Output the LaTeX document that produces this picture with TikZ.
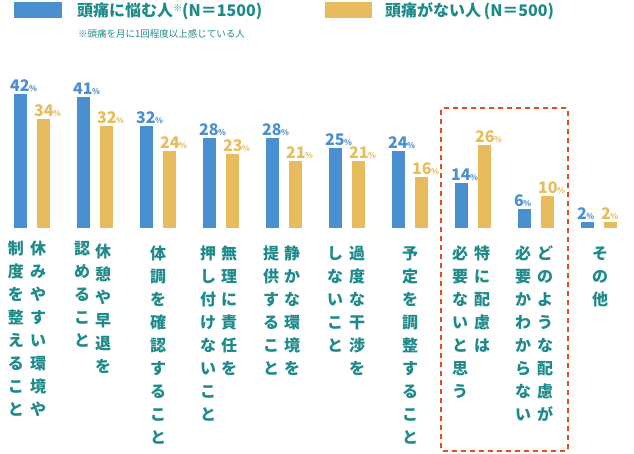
\documentclass[tikz,border=0pt]{standalone}
\usepackage{fontspec}
\setmainfont{Noto Sans CJK JP}
\definecolor{bblue}{HTML}{4A90D0}
\definecolor{byel}{HTML}{E8BC5C}
\definecolor{teal}{HTML}{1F8A8A}
\definecolor{dred}{HTML}{E0501E}
\begin{document}
\begin{tikzpicture}[x=1pt,y=-1pt,
 lab/.style={font=\fontsize{16}{23}\selectfont\bfseries,text=teal,align=center,anchor=north,inner sep=0pt},
 pct/.style={font=\fontsize{16}{16}\selectfont\bfseries,anchor=south west,inner sep=0pt}]
\useasboundingbox (0,0) rectangle (634,453);
\fill[bblue] (14,2) rectangle (62,18);
\node[anchor=west,text=teal,font=\fontsize{16}{16}\selectfont\bfseries,inner sep=0pt] (l1) at (77,11) {頭痛に悩む人\raisebox{5pt}{\fontsize{9}{9}\selectfont ※}(N＝1500)};
\fill[byel] (325,2) rectangle (372,18);
\node[anchor=west,text=teal,font=\fontsize{16}{16}\selectfont\bfseries,inner sep=0pt] (l2) at (385,11) {頭痛がない人\,(N＝500)};
\node[anchor=west,text=teal,font=\fontsize{9.5}{10}\selectfont,inner sep=0pt] (note) at (78,34) {※頭痛を月に1回程度以上感じている人};
\foreach \i/\a/\b in {0/42/34,1/41/32,2/32/24,3/28/23,4/28/21,5/25/21,6/24/16,7/14/26,8/6/10,9/2/2}{
  \pgfmathsetmacro\xa{14+63*\i}
  \pgfmathsetmacro\xb{37+63*\i}
  \pgfmathsetmacro\ya{228-3.2*\a}
  \pgfmathsetmacro\yb{228-3.2*\b}
  \fill[bblue] (\xa,\ya) rectangle ++(13,228-\ya);
  \fill[byel] (\xb,\yb) rectangle ++(13,228-\yb);
  \node[pct,text=bblue] (pa\i) at (\xa-4,\ya-2) {\a\kern-0.5pt{\fontsize{8}{8}\selectfont\%}};
  \node[pct,text=byel] (pb\i) at (\xb-3,\yb-2) {\b\kern-0.5pt{\fontsize{8}{8}\selectfont\%}};
}
\node[lab] (t1a) at (38,241) {休\\み\\や\\す\\い\\環\\境\\や};
\node[lab] (t1b) at (16,241) {制\\度\\を\\整\\え\\る\\こ\\と};
\node[lab] (t2a) at (103,244) {休\\憩\\や\\早\\退\\を};
\node[lab] (t2b) at (82,241) {認\\め\\る\\こ\\と};
\node[lab] (t3) at (158,246) {体\\調\\を\\確\\認\\す\\る\\こ\\と};
\node[lab] (t4a) at (229,246) {無\\理\\に\\責\\任\\を};
\node[lab] (t4b) at (208,246) {押\\し\\付\\け\\な\\い\\こ\\と};
\node[lab] (t5a) at (292,246) {静\\か\\な\\環\\境\\を};
\node[lab] (t5b) at (271,246) {提\\供\\す\\る\\こ\\と};
\node[lab] (t6a) at (357,246) {過\\度\\な\\干\\渉\\を};
\node[lab] (t6b) at (335,246) {し\\な\\い\\こ\\と};
\node[lab] (t7) at (410,246) {予\\定\\を\\調\\整\\す\\る\\こ\\と};
\node[lab] (t8a) at (482,246) {特\\に\\配\\慮\\は};
\node[lab] (t8b) at (460,246) {必\\要\\な\\い\\と\\思\\う};
\node[lab] (t9a) at (545,246) {ど\\の\\よ\\う\\な\\配\\慮\\が};
\node[lab] (t9b) at (523,246) {必\\要\\か\\わ\\か\\ら\\な\\い};
\node[lab] (t10) at (600,246) {そ\\の\\他};
\draw[dred,line width=1.6pt,dash pattern=on 5pt off 4pt,rounded corners=2pt] (441,108) rectangle (568,451);
\end{tikzpicture}
\end{document}
